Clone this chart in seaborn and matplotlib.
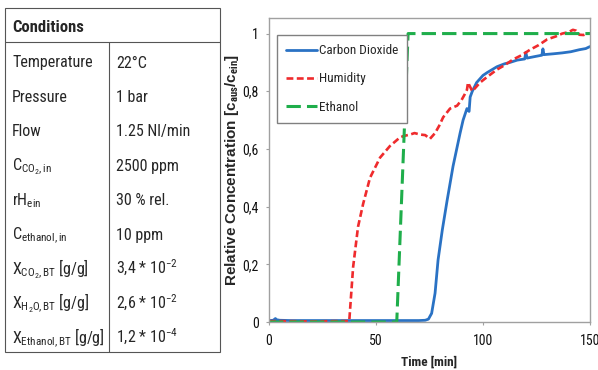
import matplotlib
matplotlib.use("Agg")
import matplotlib.pyplot as plt
from matplotlib.patches import Rectangle
import seaborn as sns
import pandas as pd

# --- data ---
series_names = ["Carbon Dioxide", "Humidity", "Ethanol"]

time_co2 = [0, 2, 3, 3.5, 5, 10, 20, 30, 40, 50, 60, 70, 73, 74.5, 76, 77.6, 79, 81,
            83.2, 86, 89.3, 90.7, 92.5, 93.5, 94, 95, 97, 100, 102, 106.5, 110, 112.6,
            116, 119.5, 120, 120.6, 124, 127.5, 128, 128.5, 133, 137, 141, 145, 148, 150]
co2 = [0.005, 0.006, 0.012, 0.008, 0.006, 0.005, 0.005, 0.005, 0.005, 0.005, 0.005,
       0.005, 0.006, 0.01, 0.03, 0.10, 0.215, 0.32, 0.42, 0.54, 0.655, 0.70, 0.74, 0.73,
       0.78, 0.80, 0.83, 0.855, 0.865, 0.885, 0.895, 0.90, 0.908, 0.912, 0.935, 0.915,
       0.92, 0.925, 0.947, 0.927, 0.93, 0.933, 0.937, 0.944, 0.948, 0.955]

time_hum = [0, 10, 20, 30, 37.5, 39.3, 41.6, 44, 47.2, 51.9, 56.5, 61.2, 63, 66, 68,
            70.6, 73, 75.2, 77.6, 79.5, 81.4, 84.6, 87.9, 90, 91.5, 92.5, 93, 95, 98.6,
            102, 106.5, 110, 114, 118, 122, 126, 130, 134, 137, 140, 142, 143.5, 145,
            147, 148.6, 150]
hum = [0.003, 0.003, 0.002, 0.003, 0.003, 0.19, 0.33, 0.41, 0.50, 0.57, 0.61, 0.64,
       0.645, 0.65, 0.655, 0.65, 0.648, 0.635, 0.655, 0.68, 0.71, 0.74, 0.75, 0.77,
       0.79, 0.805, 0.83, 0.80, 0.83, 0.85, 0.875, 0.89, 0.91, 0.925, 0.944, 0.96, 0.98,
       0.99, 1.0, 1.005, 1.013, 1.01, 0.996, 0.995, 1.0, 1.0]

time_eth = [0, 59.7, 65, 150]
eth = [0, 0, 1.0, 1.0]

x_ticks = [0, 50, 100, 150]
y_ticks = [0, 0.2, 0.4, 0.6, 0.8, 1.0]
y_tick_labels = ["0", "0,2", "0,4", "0,6", "0,8", "1"]

cond_labels = ["Temperature", "Pressure", "Flow",
               r"C$_{\mathrm{CO_2,in}}$", r"rH$_{\mathrm{ein}}$",
               r"C$_{\mathrm{ethanol,in}}$",
               r"X$_{\mathrm{CO_2,BT}}$ [g/g]", r"X$_{\mathrm{H_2O,BT}}$ [g/g]",
               r"X$_{\mathrm{Ethanol,BT}}$ [g/g]"]
cond_values = ["22°C", "1 bar", "1.25 Nl/min", "2500 ppm", "30 % rel.", "10 ppm",
               r"3,4 * 10$^{\mathrm{-2}}$", r"2,6 * 10$^{\mathrm{-2}}$",
               r"1,2 * 10$^{\mathrm{-4}}$"]

# --- style ---
sns.set_style("white")
NARROW = "Roboto Condensed"
plt.rcParams["font.family"] = [NARROW, "Liberation Sans", "DejaVu Sans"]
plt.rcParams["mathtext.fontset"] = "custom"
plt.rcParams["mathtext.rm"] = NARROW
plt.rcParams["mathtext.it"] = NARROW + ":italic"
plt.rcParams["mathtext.bf"] = NARROW + ":bold"

fig = plt.figure(figsize=(5.98, 3.70), dpi=100)

# --- conditions table (pixel coordinates) ---
tab = fig.add_axes([0, 0, 1, 1])
tab.set_xlim(0, 598)
tab.set_ylim(370, 0)
tab.axis("off")
line_c = "#555555"
tab.add_patch(Rectangle((5, 8), 215, 344, fill=False, edgecolor=line_c, lw=0.8))
tab.plot([5, 220], [42, 42], color=line_c, lw=0.8)
tab.plot([109, 109], [42, 352], color=line_c, lw=0.8)
tab.text(12, 32.5, "Conditions", fontsize=12, fontweight="bold", va="baseline")
row_h = (352 - 42) / len(cond_labels)
for i, (lab, val) in enumerate(zip(cond_labels, cond_values)):
    base = 42 + i * row_h + 25.5
    tab.text(12, base, lab, fontsize=11.5, va="baseline")
    tab.text(116, base, val, fontsize=11.5, va="baseline")

# --- chart ---
df = pd.concat([
    pd.DataFrame({"t": time_co2, "c": co2, "series": series_names[0]}),
    pd.DataFrame({"t": time_hum, "c": hum, "series": series_names[1]}),
    pd.DataFrame({"t": time_eth, "c": eth, "series": series_names[2]}),
])
palette = {"Carbon Dioxide": "#2a72c4", "Humidity": "#ef2b2d", "Ethanol": "#1fae4b"}
dashes = {"Carbon Dioxide": "", "Humidity": (2.6, 1.3), "Ethanol": (4.7, 2.0)}

ax = fig.add_axes([269 / 598, 48 / 370, 321 / 598, 304 / 370])
sns.lineplot(data=df, x="t", y="c", hue="series", style="series",
             hue_order=series_names, style_order=series_names,
             palette=palette, dashes=dashes, estimator=None, sort=False,
             legend=False, ax=ax)
for line, lw in zip(ax.lines, [2.0, 1.9, 2.2]):
    line.set_linewidth(lw)

ax.set_xlim(0, 150)
ax.set_ylim(0, 1.054)
ax.set_xticks(x_ticks)
ax.set_yticks(y_ticks)
ax.set_yticklabels(y_tick_labels)
ax.tick_params(axis="x", bottom=True, direction="out", length=2.5, color="#a0a0a0",
               labelsize=10, labelcolor="#111111", pad=6)
ax.tick_params(axis="y", left=True, direction="out", length=2, color="#a0a0a0",
               labelsize=10, labelcolor="#111111", pad=5.5)
for sp in ax.spines.values():
    sp.set_color("#a0a0a0")
    sp.set_linewidth(1)

ax.set_xlabel("Time [min]", fontweight="bold", fontsize=9.5)
ax.xaxis.set_label_coords(0.5, -34 / 304)
ax.set_ylabel(r"Relative Concentration [c$_{\mathbf{aus}}$/c$_{\mathbf{ein}}$]",
              fontweight="bold", fontsize=11, family=["Liberation Sans", "DejaVu Sans"])
ax.yaxis.set_label_coords(-0.087, 0.5)

leg = ax.legend(handles=ax.lines[:3], labels=series_names, loc="upper left",
                bbox_to_anchor=(8 / 321, 1 - 17 / 304), frameon=True, fancybox=False,
                edgecolor="#808080", framealpha=1, fontsize=9.5, handlelength=2.3,
                handletextpad=0.15, labelspacing=1.15, borderpad=0.7, borderaxespad=0)
leg.get_frame().set_linewidth(1)

fig.savefig("out.png", dpi=100)
